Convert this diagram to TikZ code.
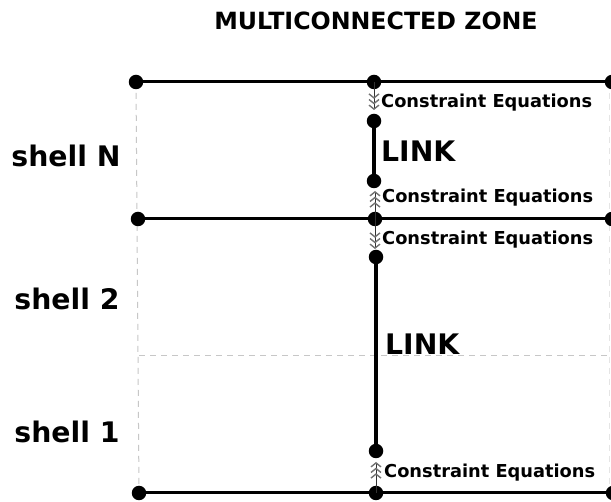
\documentclass[tikz,border=0pt]{standalone}
\usepackage{fontspec}
\setmainfont{DejaVu Sans}
\usetikzlibrary{arrows.meta}
\begin{document}
\begin{tikzpicture}[x=1pt,y=-1pt,
  dot/.style={circle,fill=black,inner sep=0pt,minimum size=14.5pt},
  shellline/.style={line width=3pt},
  guide/.style={draw=black!22,dashed,line width=1pt,dash pattern=on 6pt off 5pt},
  linkline/.style={line width=3.4pt},
  celabel/.style={anchor=west,inner sep=0pt,font=\fontsize{17.8}{19}\selectfont\bfseries},
  bigtext/.style={font=\fontsize{28.3}{30}\selectfont\bfseries,inner sep=0pt},
  cearrow/.style={line width=1pt,draw=black!80,
    -{Straight Barb[length=4pt,width=10pt,line width=1.4pt,color=black!55]Straight Barb[length=4pt,width=10pt,line width=1.4pt,color=black!55]Straight Barb[length=4pt,width=10pt,line width=1.4pt,color=black!55]}}
]
\useasboundingbox (0,0) rectangle (611,502);
\fill[white] (0,0) rectangle (611,502);

% guides
\coordinate (gtop) at (136,82);
\coordinate (gbot) at (139,493);
\coordinate (hl) at (139,356);
\coordinate (hr) at (611,356);
\coordinate (rtop) at (609.5,82);
\coordinate (rbot) at (609.5,493);
\draw[guide] (gtop) -- (gbot);
\draw[guide] (hl) -- (hr);
\draw[guide,draw=black!10] (rtop) -- (rbot);

% title
\node[font=\fontsize{23.7}{26}\selectfont\bfseries,inner sep=0pt] (title) at (376,21) {MULTICONNECTED ZONE};

% dots
\node[dot] (a1) at (136,82) {};
\node[dot] (a2) at (374,82) {};
\node[dot] (a3) at (612,82) {};
\node[dot] (b1) at (138,219) {};
\node[dot] (b2) at (375,219) {};
\node[dot] (b3) at (612,219) {};
\node[dot] (c1) at (139,493) {};
\node[dot] (c2) at (376,493) {};
\node[dot] (c3) at (613,493) {};
\node[dot] (n1) at (374,121) {};
\node[dot] (n2) at (374,181) {};
\node[dot] (l1) at (376,257) {};
\node[dot] (l2) at (376,451) {};

% shell lines
\draw[shellline] (a1) -- (a2) -- (a3);
\draw[shellline] (b1) -- (b2) -- (b3);
\draw[shellline] (c1) -- (c2) -- (c3);

% links
\draw[linkline] (n1) -- (n2);
\draw[linkline,line width=4.8pt] (l1) -- (l2);

% constraint arrows
\coordinate (e1) at (374,110);
\coordinate (e2) at (375,191);
\coordinate (e3) at (375,249);
\coordinate (e4) at (376,462);
\draw[cearrow] (a2.center) -- (e1);
\draw[cearrow] (b2.center) -- (e2);
\draw[cearrow] (b2.center) -- (e3);
\draw[cearrow] (c2.center) -- (e4);

% labels
\node[celabel] (ce1) at (381,103) {Constraint Equations};
\node[celabel] (ce2) at (382,198) {Constraint Equations};
\node[celabel] (ce3) at (382,240) {Constraint Equations};
\node[celabel] (ce4) at (384,473) {Constraint Equations};

\node[bigtext,anchor=west] (link1) at (381,151) {LINK};
\node[bigtext,anchor=west] (link2) at (385,344) {LINK};

\node[bigtext] (sN) at (66,156) {shell N};
\node[bigtext] (s2) at (67,299) {shell 2};
\node[bigtext] (s1) at (67,432) {shell 1};
\end{tikzpicture}
\end{document}
